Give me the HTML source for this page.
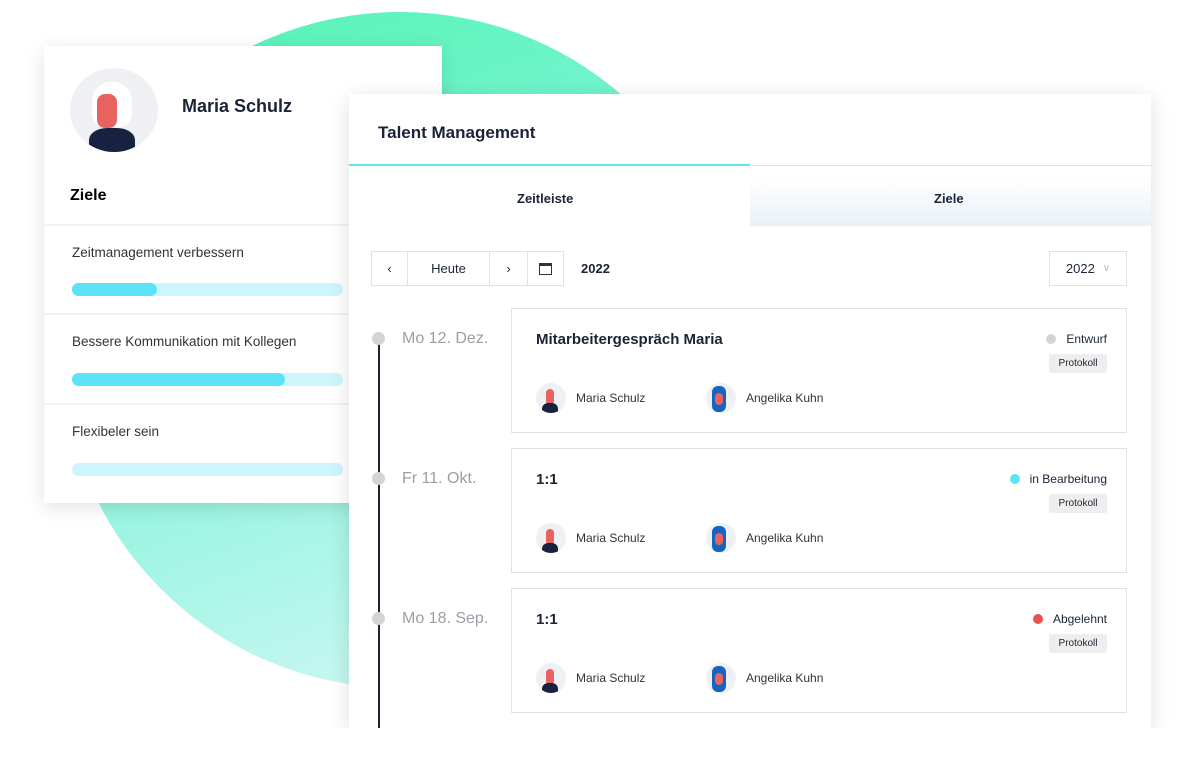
<!DOCTYPE html>
<html><head><meta charset="utf-8"><style>
*{box-sizing:border-box;margin:0;padding:0}
html,body{width:1189px;height:768px;overflow:hidden}
body{background:#fff;position:relative;font-family:"Liberation Sans",sans-serif;color:#1a2436}
.circle{position:absolute;left:62px;top:12px;width:676px;height:676px;border-radius:50%;background:linear-gradient(160deg,#4ff5b0 0%,#7ef3d6 40%,#c6f7f1 85%,#e2fbf8 100%)}
.card{position:absolute;background:#fff;box-shadow:0 4px 18px rgba(0,0,0,.12)}
.l{left:44px;top:46px;width:398px;height:457px}
.r{left:349px;top:94px;width:802px;height:634px;box-shadow:0 4px 20px rgba(0,0,0,.13)}
.av{position:absolute;border-radius:50%;background:#eef0f3;overflow:hidden}
.sep{position:absolute;left:0;right:0;height:2px;background:#f3f3f3}
.bar{position:absolute;left:28px;width:271px;height:13px;border-radius:7px;background:#cdf6fc}
.bar i{display:block;height:13px;border-radius:7px;background:#5de3f8}
.t{position:absolute;white-space:nowrap}
.btn{position:absolute;height:35px;border:1px solid #e2e2e2;display:flex;align-items:center;justify-content:center;font-size:13px}
.ev{position:absolute;left:162px;width:616px;height:125px;border:1px solid #e2e2e2}
.dot{position:absolute;left:23px;width:13px;height:13px;border-radius:50%;background:#d4d4d4}
.date{position:absolute;left:53px;font-size:16px;color:#9a9ea4}
.pr{position:absolute;right:19px;top:45px;width:58px;height:19px;background:#eeeeee;border-radius:2px;font-size:10px;line-height:19px;text-align:center}
.st{position:absolute;right:19px;top:23px;font-size:12px}
.st b{display:inline-block;width:10px;height:10px;border-radius:50%;margin-right:10px;vertical-align:-1px}
.p{position:absolute;top:74px;font-size:12px;color:#333;line-height:30px;display:flex;align-items:center}
.p span.a{width:30px;height:30px;border-radius:50%;background:#eef0f3;margin-right:10px;position:relative;overflow:hidden}
</style></head><body>
<div class="circle"></div>
<div class="card l">
 <div class="av" style="left:26px;top:22px;width:88px;height:84px">
  <div style="position:absolute;left:22px;top:14px;width:40px;height:45px;background:#fff;border-radius:45% 45% 30% 30%"></div>
  <div style="position:absolute;left:27px;top:26px;width:20px;height:34px;background:#e8625f;border-radius:8px"></div>
  <div style="position:absolute;left:19px;top:60px;width:46px;height:30px;background:#16223f;border-radius:40% 40% 0 0"></div>
 </div>
 <div class="t" style="left:138px;top:50px;font-size:18px;font-weight:bold">Maria Schulz</div>
 <div class="t" style="left:26px;top:141px;font-size:16px;font-weight:bold;color:#000">Ziele</div>
 <div class="sep" style="top:178px"></div>
 <div class="t" style="left:28px;top:199px;font-size:13.5px;color:#333">Zeitmanagement verbessern</div>
 <div class="bar" style="top:237px"><i style="width:85px"></i></div>
 <div class="sep" style="top:267px"></div>
 <div class="t" style="left:28px;top:288px;font-size:13.5px;color:#333">Bessere Kommunikation mit Kollegen</div>
 <div class="bar" style="top:327px"><i style="width:213px"></i></div>
 <div class="sep" style="top:357px"></div>
 <div class="t" style="left:28px;top:378px;font-size:13.5px;color:#333">Flexibeler sein</div>
 <div class="bar" style="top:417px"></div>
</div>
<div class="card r">
 <div class="t" style="left:29px;top:29px;font-size:17px;font-weight:bold">Talent Management</div>
 <div style="position:absolute;left:0;top:70px;width:401px;height:2px;background:#5de3f8"></div>
 <div style="position:absolute;left:401px;top:71px;right:0;height:1px;background:#e2e2e2"></div>
 <div style="position:absolute;left:401px;top:72px;right:0;height:60px;background:linear-gradient(#fff 20%,#e9f1f8)"></div>
 <div class="t" style="left:168px;top:97px;font-size:13px;font-weight:bold">Zeitleiste</div>
 <div class="t" style="left:585px;top:97px;font-size:13px;font-weight:bold">Ziele</div>
</div>
<div style="position:absolute;left:349px;top:94px;width:802px;height:634px;overflow:hidden">
 <div class="btn" style="left:22px;top:157px;width:37px">&#x2039;</div>
 <div class="btn" style="left:58px;top:157px;width:83px">Heute</div>
 <div class="btn" style="left:140px;top:157px;width:39px">&#x203A;</div>
 <div class="btn" style="left:178px;top:157px;width:37px"><span style="width:13px;height:12px;border:1.5px solid #333;border-top-width:3px;display:block"></span></div>
 <div class="t" style="left:232px;top:167px;font-size:13px;font-weight:bold">2022</div>
 <div class="btn" style="left:700px;top:157px;width:78px">2022 <span style="color:#bbb;margin-left:8px;font-size:10px">&#x2228;</span></div>
 <div style="position:absolute;left:29px;top:245px;width:2px;height:440px;background:#1a2436"></div>
 <div class="dot" style="top:238px"></div><div class="date" style="top:236px">Mo 12. Dez.</div>
 <div class="dot" style="top:378px"></div><div class="date" style="top:376px">Fr 11. Okt.</div>
 <div class="dot" style="top:518px"></div><div class="date" style="top:516px">Mo 18. Sep.</div>

 <div class="ev" style="top:214px">
  <div class="t" style="left:24px;top:22px;font-size:15px;font-weight:bold">Mitarbeitergespräch Maria</div>
  <div class="st"><b style="background:#d4d4d4"></b>Entwurf</div><div class="pr">Protokoll</div>
  <div class="p" style="left:24px"><span class="a"><i style="position:absolute;left:10px;top:6px;width:8px;height:16px;background:#e8625f;border-radius:4px"></i><i style="position:absolute;left:6px;top:20px;width:16px;height:10px;background:#16223f;border-radius:6px 6px 0 0"></i></span>Maria Schulz</div>
  <div class="p" style="left:194px"><span class="a"><i style="position:absolute;left:6px;top:3px;width:14px;height:26px;background:#1565c0;border-radius:6px"></i><i style="position:absolute;left:9px;top:10px;width:8px;height:12px;background:#e8625f;border-radius:4px"></i></span>Angelika Kuhn</div>
 </div>
 <div class="ev" style="top:354px">
  <div class="t" style="left:24px;top:22px;font-size:15px;font-weight:bold">1:1</div>
  <div class="st"><b style="background:#5de3f8"></b>in Bearbeitung</div><div class="pr">Protokoll</div>
  <div class="p" style="left:24px"><span class="a"><i style="position:absolute;left:10px;top:6px;width:8px;height:16px;background:#e8625f;border-radius:4px"></i><i style="position:absolute;left:6px;top:20px;width:16px;height:10px;background:#16223f;border-radius:6px 6px 0 0"></i></span>Maria Schulz</div>
  <div class="p" style="left:194px"><span class="a"><i style="position:absolute;left:6px;top:3px;width:14px;height:26px;background:#1565c0;border-radius:6px"></i><i style="position:absolute;left:9px;top:10px;width:8px;height:12px;background:#e8625f;border-radius:4px"></i></span>Angelika Kuhn</div>
 </div>
 <div class="ev" style="top:494px">
  <div class="t" style="left:24px;top:22px;font-size:15px;font-weight:bold">1:1</div>
  <div class="st"><b style="background:#e8524f"></b>Abgelehnt</div><div class="pr">Protokoll</div>
  <div class="p" style="left:24px"><span class="a"><i style="position:absolute;left:10px;top:6px;width:8px;height:16px;background:#e8625f;border-radius:4px"></i><i style="position:absolute;left:6px;top:20px;width:16px;height:10px;background:#16223f;border-radius:6px 6px 0 0"></i></span>Maria Schulz</div>
  <div class="p" style="left:194px"><span class="a"><i style="position:absolute;left:6px;top:3px;width:14px;height:26px;background:#1565c0;border-radius:6px"></i><i style="position:absolute;left:9px;top:10px;width:8px;height:12px;background:#e8625f;border-radius:4px"></i></span>Angelika Kuhn</div>
 </div>
</div>
<div style="position:absolute;left:0;top:728px;width:1189px;height:40px;background:#fff"></div>
</body></html>
